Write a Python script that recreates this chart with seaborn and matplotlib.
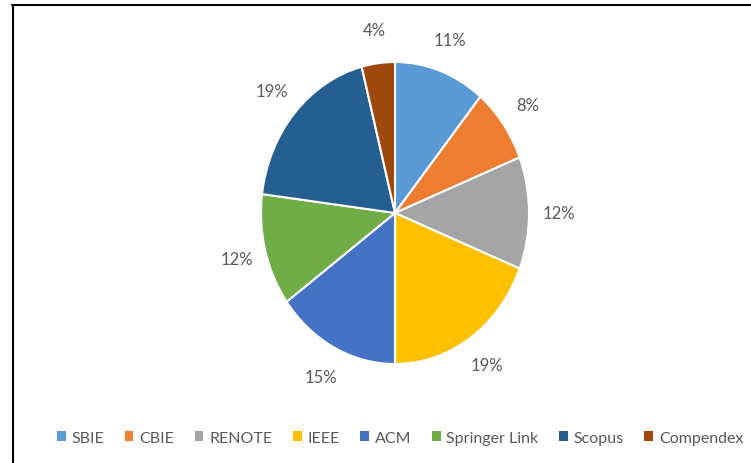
import matplotlib
matplotlib.use("Agg")
import matplotlib.pyplot as plt
import seaborn as sns
import numpy as np
from matplotlib.lines import Line2D
from matplotlib.patches import Patch

categories = ["SBIE", "CBIE", "RENOTE", "IEEE", "ACM", "Springer Link", "Scopus", "Compendex"]
values = [11, 8, 12, 19, 15, 12, 19, 4]
label_texts = ["11%", "8%", "12%", "19%", "15%", "12%", "19%", "4%"]
colors = ["#5B9BD5", "#ED7D31", "#A5A5A5", "#FFC000", "#4472C4", "#70AD47", "#255E91", "#9E480E"]

sns.set_theme(style="white")
plt.rcParams['font.family'] = ['Lato', 'DejaVu Sans']
palette = sns.color_palette(colors)

W, H = 751, 464
fig = plt.figure(figsize=(W / 100, H / 100), dpi=100)
cx, cy, rx, ry = 395, 214, 134, 151
ax = fig.add_axes([(cx - rx) / W, (H - cy - ry) / H, 2 * rx / W, 2 * ry / H])

wedges, texts = ax.pie(values, colors=palette, startangle=90, counterclock=False,
                       labels=label_texts, labeldistance=1.22,
                       wedgeprops=dict(edgecolor="white", linewidth=1.5),
                       textprops=dict(color="#595959", fontsize=12))
ax.set_aspect('auto')
ax.set_xlim(-1, 1)
ax.set_ylim(-1, 1)
for t in texts:
    t.set_ha('center'); t.set_va('center')

handles = [Patch(facecolor=c, edgecolor='none') for c in palette]
fig.legend(handles, categories, loc='center', bbox_to_anchor=(400 / W, 1 - 439 / H),
           ncol=8, frameon=False, handlelength=0.55, handleheight=0.6, handletextpad=0.35,
           columnspacing=1.3, prop=dict(size=11.5), labelcolor="#595959")

# frame lines (top and left)
fig.add_artist(Line2D([12 / W, 1], [1 - 5.5 / H, 1 - 5.5 / H], transform=fig.transFigure, color="black", lw=1.5))
fig.add_artist(Line2D([12.5 / W, 12.5 / W], [0, 1 - 5.5 / H], transform=fig.transFigure, color="black", lw=1.5))

fig.savefig("out.png", dpi=100, facecolor="white")
